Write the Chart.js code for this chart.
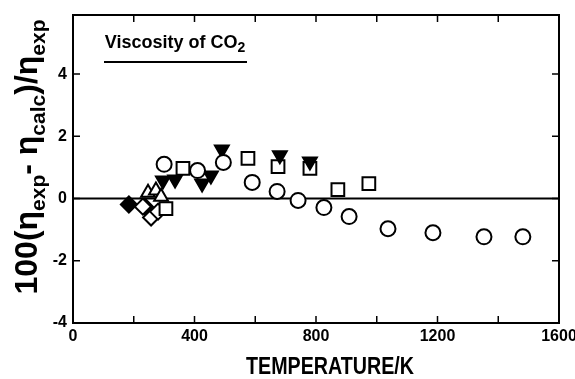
<!DOCTYPE html>
<html>
<head>
<meta charset="utf-8">
<script src="https://cdn.jsdelivr.net/npm/chart.js@4"></script>
<style>
  body { margin: 0; background: #fff; }
  canvas { display: block; }
</style>
</head>
<body>
<canvas id="chart" width="575" height="379"></canvas>
<script>
// Temperature (K) and deviation 100(exp - calc)/exp for each symbol set
const circleT = [300, 410, 495, 590, 672, 741, 826, 909, 1037, 1185, 1353, 1481];
const circleDev = [1.10, 0.90, 1.16, 0.52, 0.23, -0.06, -0.29, -0.58, -0.97, -1.10, -1.23, -1.23];

const squareT = [306, 362, 576, 675, 780, 872, 974];
const squareDev = [-0.32, 0.97, 1.29, 1.03, 0.97, 0.29, 0.48];

const downTriT = [296, 336, 425, 454, 490, 681, 780];
const downTriDev = [0.58, 0.61, 0.48, 0.74, 1.58, 1.39, 1.19];

const upTriT = [247, 273, 290];
const upTriDev = [0.19, 0.26, 0.06];

const openDiamondT = [230, 257, 280];
const openDiamondDev = [-0.26, -0.61, -0.42];

const filledDiamondT = [184, 237];
const filledDiamondDev = [-0.19, -0.26];

// axis labels and tick marks
const xTickLabels = [0, 400, 800, 1200, 1600];
const yTickLabels = [-4, -2, 0, 2, 4];
const xTickMarks = [200, 400, 600, 800, 1000, 1200, 1400];
const yTickMarks = [-2, 0, 2, 4];

const FONT = '"Liberation Sans", Arial, sans-serif';

function toPoints(ts, ds) {
    return ts.map((t, i) => ({ x: t, y: ds[i] }));
}

function marker(label, ts, ds, style, radius, fill, rotation) {
    return {
        label: label,
        data: toPoints(ts, ds),
        pointStyle: style,
        pointRadius: radius,
        pointRotation: rotation || 0,
        pointBorderWidth: 2,
        pointBorderColor: '#000',
        pointBackgroundColor: fill,
        showLine: false
    };
}

// text with subscripts, parts = [[text, isSub], ...], centred on 0
function drawParts(ctx, parts, size, subSize, subShift) {
    let total = 0;
    parts.forEach(p => {
        ctx.font = 'bold ' + (p[1] ? subSize : size) + 'px ' + FONT;
        total += ctx.measureText(p[0]).width;
    });
    let cx = -total / 2;
    parts.forEach(p => {
        ctx.font = 'bold ' + (p[1] ? subSize : size) + 'px ' + FONT;
        ctx.fillText(p[0], cx, p[1] ? subShift : 0);
        cx += ctx.measureText(p[0]).width;
    });
}

const framePlugin = {
    id: 'frame',
    beforeDatasetsDraw(chart) {
        const ctx = chart.ctx;
        const a = chart.chartArea;
        const y0 = chart.scales.y.getPixelForValue(0);
        ctx.save();
        ctx.strokeStyle = '#000';
        ctx.lineWidth = 2;
        ctx.beginPath();
        ctx.moveTo(a.left, y0);
        ctx.lineTo(a.right, y0);
        ctx.stroke();
        ctx.restore();
    },
    afterDraw(chart) {
        const ctx = chart.ctx;
        const a = chart.chartArea;
        const xs = chart.scales.x;
        const ys = chart.scales.y;
        ctx.save();
        ctx.strokeStyle = '#000';
        ctx.fillStyle = '#000';
        ctx.lineWidth = 2;
        ctx.strokeRect(a.left, a.top, a.right - a.left, a.bottom - a.top);

        ctx.lineWidth = 1.5;
        ctx.beginPath();
        xTickMarks.forEach(v => {
            const px = xs.getPixelForValue(v);
            ctx.moveTo(px, a.bottom); ctx.lineTo(px, a.bottom - 7);
            ctx.moveTo(px, a.top); ctx.lineTo(px, a.top + 7);
        });
        yTickMarks.forEach(v => {
            const py = ys.getPixelForValue(v);
            ctx.moveTo(a.left, py); ctx.lineTo(a.left + 7, py);
            ctx.moveTo(a.right, py); ctx.lineTo(a.right - 7, py);
        });
        ctx.stroke();

        ctx.textAlign = 'left';
        ctx.textBaseline = 'alphabetic';

        // x title, a little condensed
        ctx.save();
        ctx.translate(330, 374);
        ctx.scale(0.82, 1);
        drawParts(ctx, [['TEMPERATURE/K', false]], 24, 24, 0);
        ctx.restore();

        // y title
        ctx.save();
        ctx.translate(37, 157);
        ctx.rotate(-Math.PI / 2);
        drawParts(ctx, [
            ['100(η', false], ['exp', true], ['- η', false], ['calc', true],
            [')/η', false], ['exp', true]
        ], 32, 21, 8);
        ctx.restore();

        // label
        ctx.save();
        ctx.translate(175, 48);
        drawParts(ctx, [['Viscosity of CO', false], ['2', true]], 18, 14, 4);
        ctx.restore();
        ctx.lineWidth = 2;
        ctx.beginPath();
        ctx.moveTo(104, 62);
        ctx.lineTo(247, 62);
        ctx.stroke();
        ctx.restore();
    }
};

const tickFont = { family: FONT, size: 16, weight: 'bold' };

new Chart(document.getElementById('chart'), {
    type: 'scatter',
    data: {
        datasets: [
            marker('circles', circleT, circleDev, 'circle', 7.5, '#fff'),
            marker('filled triangles', downTriT, downTriDev, 'triangle', 8, '#000', 180),
            marker('squares', squareT, squareDev, 'rect', 9, '#fff'),
            marker('open triangles', upTriT, upTriDev, 'triangle', 8, '#fff'),
            marker('open diamonds', openDiamondT, openDiamondDev, 'rectRot', 8, '#fff'),
            marker('filled diamonds', filledDiamondT, filledDiamondDev, 'rectRot', 8, '#000')
        ]
    },
    options: {
        responsive: false,
        animation: false,
        devicePixelRatio: 1,
        layout: { padding: { top: 15, right: 16, left: 0, bottom: 0 } },
        plugins: {
            legend: { display: false },
            tooltip: { enabled: false }
        },
        scales: {
            x: {
                type: 'linear',
                min: 0,
                max: 1600,
                afterBuildTicks: s => { s.ticks = xTickLabels.map(v => ({ value: v })); },
                afterFit: s => {
                    s.height = 56;
                    s.paddingLeft = s.paddingRight = s.paddingTop = s.paddingBottom = 0;
                },
                grid: { display: false, drawTicks: false },
                border: { display: false },
                ticks: {
                    color: '#000', font: tickFont, padding: 4, maxRotation: 0, autoSkip: false,
                    callback: v => String(v)
                }
            },
            y: {
                type: 'linear',
                min: -4,
                max: 5.9,
                afterBuildTicks: s => { s.ticks = yTickLabels.map(v => ({ value: v })); },
                afterFit: s => {
                    s.width = 73;
                    s.paddingLeft = s.paddingRight = s.paddingTop = s.paddingBottom = 0;
                },
                grid: { display: false, drawTicks: false },
                border: { display: false },
                ticks: { color: '#000', font: tickFont, padding: 6, autoSkip: false, callback: v => String(v) }
            }
        }
    },
    plugins: [framePlugin]
});
</script>
</body>
</html>
